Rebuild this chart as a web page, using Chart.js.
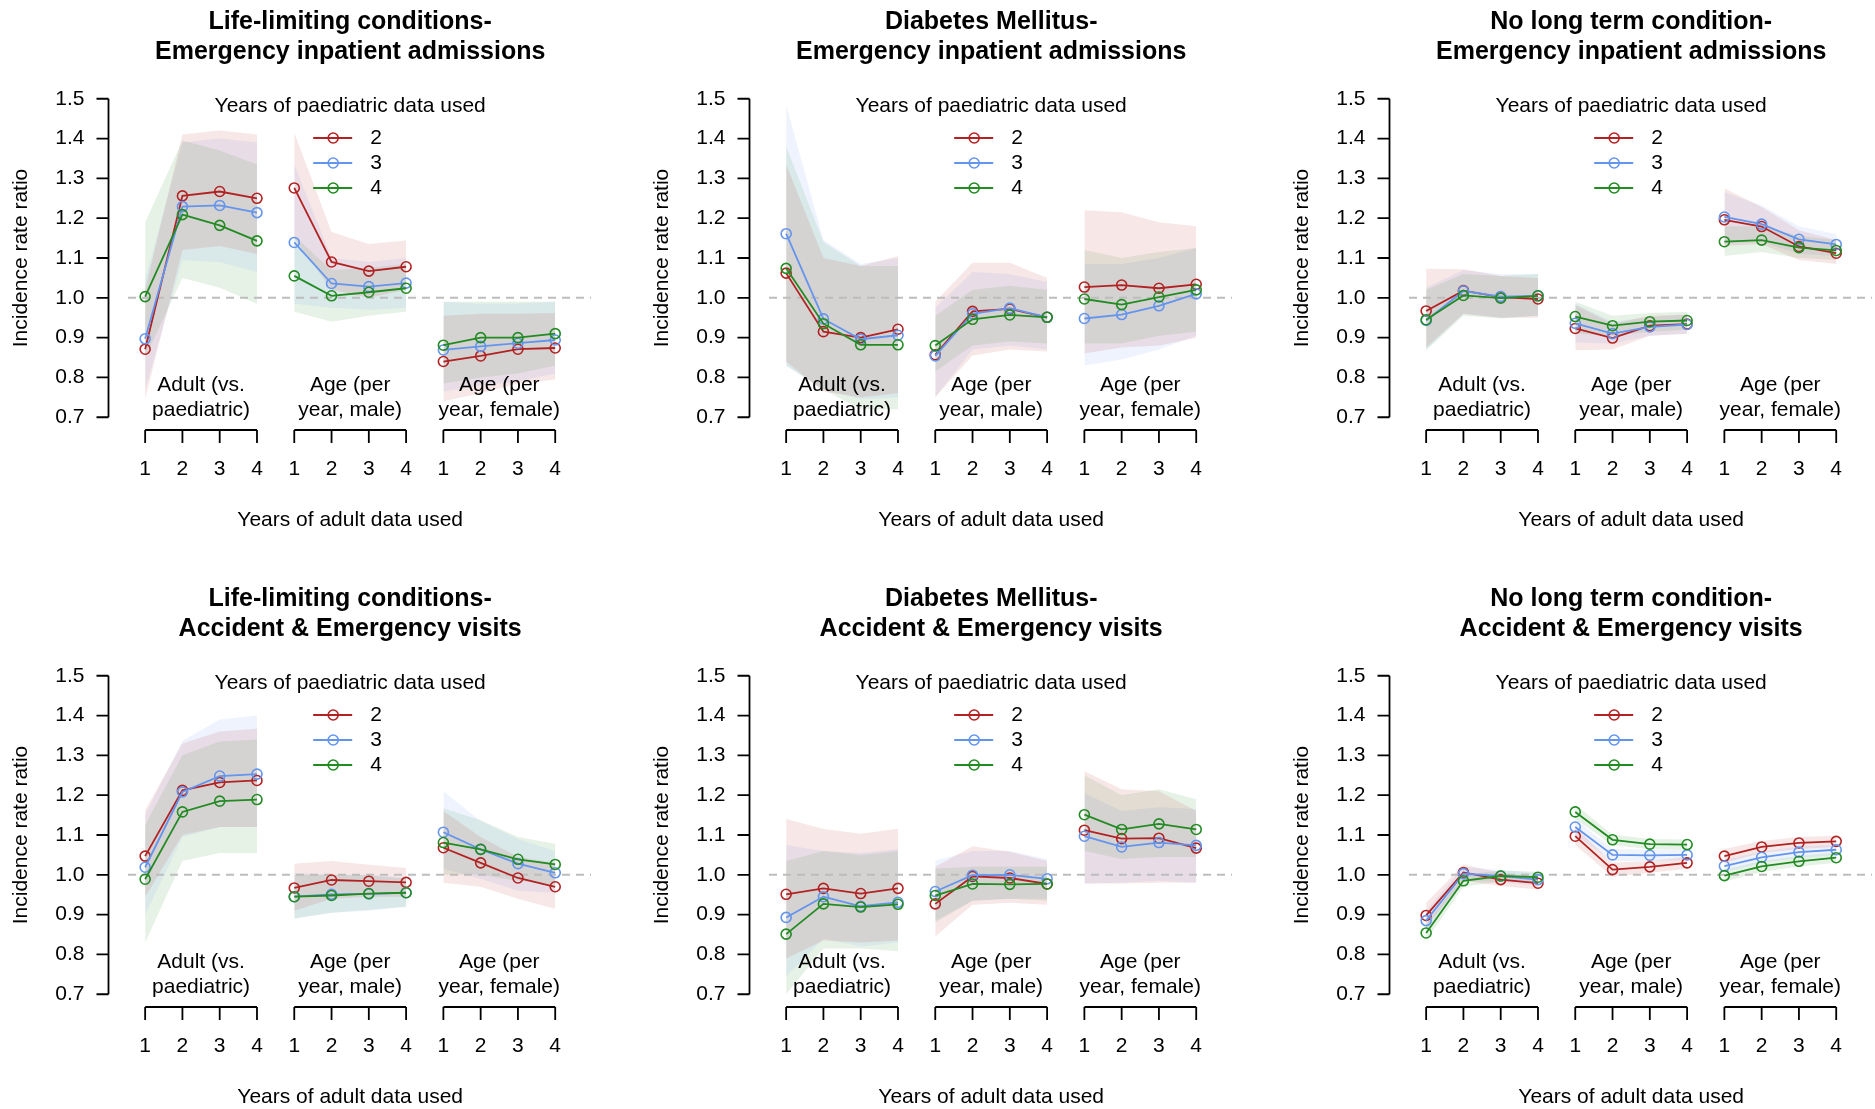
<!DOCTYPE html>
<html>
<head>
<meta charset="utf-8">
<title>Incidence rate ratios</title>
<script src="https://cdn.jsdelivr.net/npm/chart.js@4.4.0/dist/chart.umd.min.js"></script>
<style>
  html, body { margin: 0; padding: 0; background: #fff; }
  #wrap { position: relative; width: 1875px; height: 1109px; overflow: hidden; }
  #wrap canvas { position: absolute; }
</style>
</head>
<body>
<div id="wrap"></div>
<script>
// categories / labels
const adultYears = ['1', '2', '3', '4'];
const paedYears = ['2', '3', '4'];
const covariates = [['Adult (vs.', 'paediatric)'], ['Age (per', 'year, male)'], ['Age (per', 'year, female)']];
const yTicks = [0.7, 0.8, 0.9, 1.0, 1.1, 1.2, 1.3, 1.4, 1.5];
const yTickLabels = ['0.7', '0.8', '0.9', '1.0', '1.1', '1.2', '1.3', '1.4', '1.5'];

// each array: rows = paediatric years 2,3,4 ; 12 values = 3 covariates x adult years 1-4
// Life-limiting conditions - emergency inpatient admissions
const lifeEia = [
  [0.871, 1.256, 1.267, 1.250, 1.276, 1.090, 1.067, 1.078, 0.840, 0.854, 0.871, 0.874],
  [0.897, 1.229, 1.232, 1.214, 1.139, 1.036, 1.028, 1.037, 0.869, 0.878, 0.886, 0.894],
  [1.003, 1.209, 1.182, 1.143, 1.055, 1.005, 1.014, 1.024, 0.881, 0.900, 0.900, 0.910]];
const lifeEiaLo = [
  [0.745, 1.12, 1.13, 1.11, 1.15, 1.02, 1.00, 1.02, 0.74, 0.76, 0.785, 0.795],
  [0.77, 1.095, 1.09, 1.065, 0.985, 0.975, 0.97, 0.975, 0.765, 0.78, 0.79, 0.81],
  [0.85, 1.05, 1.025, 0.985, 0.965, 0.94, 0.955, 0.965, 0.785, 0.80, 0.81, 0.83]];
const lifeEiaHi = [
  [1.02, 1.41, 1.42, 1.41, 1.415, 1.165, 1.135, 1.144, 0.955, 0.96, 0.96, 0.962],
  [1.045, 1.39, 1.40, 1.39, 1.335, 1.10, 1.09, 1.10, 0.99, 0.985, 0.985, 0.99],
  [1.19, 1.395, 1.37, 1.335, 1.155, 1.07, 1.075, 1.085, 0.99, 0.99, 0.99, 0.99]];

// Diabetes Mellitus - emergency inpatient admissions
const diabEia = [
  [1.062, 0.915, 0.900, 0.921, 0.857, 0.966, 0.972, 0.951, 1.027, 1.032, 1.024, 1.034],
  [1.161, 0.947, 0.896, 0.906, 0.854, 0.960, 0.974, 0.951, 0.948, 0.958, 0.980, 1.010],
  [1.074, 0.935, 0.882, 0.882, 0.880, 0.946, 0.957, 0.951, 0.997, 0.983, 1.002, 1.020]];
const diabEiaLo = [
  [0.84, 0.765, 0.75, 0.76, 0.75, 0.855, 0.87, 0.865, 0.86, 0.875, 0.88, 0.90],
  [0.83, 0.77, 0.745, 0.75, 0.75, 0.87, 0.88, 0.87, 0.83, 0.845, 0.87, 0.905],
  [0.83, 0.77, 0.72, 0.72, 0.815, 0.88, 0.89, 0.885, 0.885, 0.885, 0.905, 0.915]];
const diabEiaHi = [
  [1.335, 1.10, 1.08, 1.105, 0.99, 1.088, 1.088, 1.05, 1.22, 1.215, 1.19, 1.18],
  [1.485, 1.145, 1.085, 1.10, 0.975, 1.065, 1.06, 1.04, 1.085, 1.085, 1.10, 1.125],
  [1.38, 1.14, 1.08, 1.08, 0.955, 1.02, 1.03, 1.02, 1.12, 1.10, 1.115, 1.125]];

// No long term condition - emergency inpatient admissions
const noneEia = [
  [0.967, 1.018, 1.002, 0.997, 0.923, 0.899, 0.930, 0.934, 1.196, 1.179, 1.129, 1.112],
  [0.943, 1.017, 1.003, 1.005, 0.936, 0.910, 0.927, 0.933, 1.203, 1.185, 1.147, 1.134],
  [0.945, 1.006, 0.999, 1.005, 0.953, 0.930, 0.940, 0.943, 1.141, 1.145, 1.126, 1.119]];
const noneEiaLo = [
  [0.875, 0.96, 0.95, 0.95, 0.868, 0.87, 0.905, 0.91, 1.13, 1.135, 1.095, 1.085],
  [0.87, 0.96, 0.95, 0.955, 0.888, 0.885, 0.905, 0.91, 1.135, 1.14, 1.11, 1.105],
  [0.868, 0.955, 0.948, 0.955, 0.91, 0.905, 0.915, 0.92, 1.105, 1.115, 1.10, 1.095]];
const noneEiaHi = [
  [1.073, 1.072, 1.055, 1.05, 0.982, 0.935, 0.955, 0.958, 1.275, 1.228, 1.17, 1.145],
  [1.025, 1.07, 1.06, 1.06, 0.985, 0.94, 0.952, 0.958, 1.265, 1.232, 1.18, 1.16],
  [1.02, 1.06, 1.055, 1.06, 0.99, 0.955, 0.962, 0.965, 1.18, 1.18, 1.155, 1.145]];

// Life-limiting conditions - A&E visits
const lifeAe = [
  [1.047, 1.212, 1.232, 1.237, 0.967, 0.987, 0.984, 0.981, 1.068, 1.030, 0.992, 0.970],
  [1.019, 1.208, 1.248, 1.253, 0.945, 0.951, 0.952, 0.955, 1.107, 1.064, 1.028, 1.005],
  [0.989, 1.158, 1.185, 1.189, 0.945, 0.948, 0.953, 0.955, 1.081, 1.064, 1.039, 1.026]];
const lifeAeLo = [
  [0.945, 1.10, 1.12, 1.12, 0.91, 0.94, 0.945, 0.945, 0.98, 0.97, 0.94, 0.915],
  [0.90, 1.095, 1.12, 1.12, 0.89, 0.905, 0.91, 0.92, 1.015, 0.99, 0.96, 0.955],
  [0.83, 1.035, 1.055, 1.055, 0.89, 0.905, 0.912, 0.92, 1.0, 1.0, 0.985, 0.975]];
const lifeAeHi = [
  [1.162, 1.33, 1.36, 1.367, 1.028, 1.035, 1.025, 1.017, 1.16, 1.095, 1.045, 1.03],
  [1.15, 1.337, 1.39, 1.40, 1.005, 1.0, 1.0, 0.993, 1.21, 1.135, 1.09, 1.06],
  [1.125, 1.30, 1.335, 1.34, 1.0, 1.0, 0.998, 0.99, 1.167, 1.137, 1.095, 1.078]];

// Diabetes Mellitus - A&E visits
const diabAe = [
  [0.951, 0.966, 0.953, 0.966, 0.927, 0.996, 0.992, 0.977, 1.112, 1.091, 1.092, 1.067],
  [0.893, 0.945, 0.921, 0.931, 0.958, 0.999, 1.000, 0.990, 1.097, 1.070, 1.081, 1.074],
  [0.851, 0.927, 0.919, 0.926, 0.948, 0.977, 0.976, 0.977, 1.151, 1.114, 1.128, 1.114]];
const diabAeLo = [
  [0.79, 0.835, 0.83, 0.835, 0.845, 0.925, 0.93, 0.925, 0.978, 0.978, 0.98, 0.98],
  [0.745, 0.84, 0.82, 0.83, 0.885, 0.935, 0.94, 0.94, 0.978, 0.98, 0.985, 0.98],
  [0.70, 0.815, 0.815, 0.808, 0.88, 0.935, 0.94, 0.935, 1.06, 1.04, 1.045, 1.045]];
const diabAeHi = [
  [1.14, 1.115, 1.103, 1.116, 1.02, 1.072, 1.058, 1.035, 1.26, 1.215, 1.21, 1.16],
  [1.075, 1.06, 1.055, 1.065, 1.036, 1.06, 1.06, 1.04, 1.205, 1.16, 1.17, 1.165],
  [1.035, 1.06, 1.05, 1.06, 1.015, 1.02, 1.02, 1.02, 1.25, 1.20, 1.215, 1.19]];

// No long term condition - A&E visits
const noneAe = [
  [0.898, 1.006, 0.988, 0.979, 1.097, 1.013, 1.020, 1.030, 1.047, 1.070, 1.080, 1.084],
  [0.885, 1.003, 0.997, 0.988, 1.120, 1.050, 1.049, 1.050, 1.022, 1.044, 1.057, 1.063],
  [0.854, 0.985, 0.997, 0.994, 1.158, 1.088, 1.077, 1.076, 0.998, 1.021, 1.034, 1.043]];
const noneAeLo = [
  [0.87, 0.985, 0.972, 0.963, 1.075, 0.995, 1.005, 1.015, 1.03, 1.055, 1.065, 1.07],
  [0.86, 0.985, 0.982, 0.973, 1.10, 1.035, 1.035, 1.037, 1.007, 1.03, 1.043, 1.05],
  [0.835, 0.97, 0.983, 0.98, 1.14, 1.075, 1.064, 1.063, 0.983, 1.007, 1.021, 1.03]];
const noneAeHi = [
  [0.93, 1.025, 1.005, 0.995, 1.118, 1.03, 1.035, 1.045, 1.065, 1.085, 1.095, 1.098],
  [0.91, 1.02, 1.012, 1.003, 1.14, 1.065, 1.063, 1.063, 1.037, 1.058, 1.071, 1.076],
  [0.875, 1.0, 1.011, 1.008, 1.176, 1.101, 1.09, 1.089, 1.013, 1.035, 1.047, 1.056]];

const panels = [
  { title: ['Life-limiting conditions-', 'Emergency inpatient admissions'], mean: lifeEia, lo: lifeEiaLo, hi: lifeEiaHi, left: 0, top: 0 },
  { title: ['Diabetes Mellitus-', 'Emergency inpatient admissions'], mean: diabEia, lo: diabEiaLo, hi: diabEiaHi, left: 641, top: 0 },
  { title: ['No long term condition-', 'Emergency inpatient admissions'], mean: noneEia, lo: noneEiaLo, hi: noneEiaHi, left: 1281, top: 0 },
  { title: ['Life-limiting conditions-', 'Accident & Emergency visits'], mean: lifeAe, lo: lifeAeLo, hi: lifeAeHi, left: 0, top: 577 },
  { title: ['Diabetes Mellitus-', 'Accident & Emergency visits'], mean: diabAe, lo: diabAeLo, hi: diabAeHi, left: 641, top: 577 },
  { title: ['No long term condition-', 'Accident & Emergency visits'], mean: noneAe, lo: noneAeLo, hi: noneAeHi, left: 1281, top: 577 }
];

const lineColors = ['#B22222', '#6495ED', '#228B22'];
const bandColors = ['rgba(178,34,34,0.11)', 'rgba(100,149,237,0.11)', 'rgba(34,139,34,0.11)'];
const FONT = '"Liberation Sans", Arial, Helvetica, sans-serif';

// points of one covariate group, x = 1..12
function groupPts(vals, g) {
  return adultYears.map((t, k) => ({ x: g * 4 + k + 1, y: vals[g * 4 + k] }));
}
// whole series with a gap between covariate groups
function seriesPts(vals) {
  const out = [];
  covariates.forEach((c, g) => {
    out.push(...groupPts(vals, g));
    if (g < covariates.length - 1) out.push({ x: g * 4 + 4.5, y: null });
  });
  return out;
}

const decor = {
  id: 'decor',
  beforeDatasetsDraw(chart) {
    const { ctx, chartArea: a, scales: { y } } = chart;
    const py = y.getPixelForValue(1);
    ctx.save();
    ctx.strokeStyle = '#bdbdbd';
    ctx.lineWidth = 2;
    ctx.setLineDash([8, 6]);
    ctx.beginPath();
    ctx.moveTo(a.left, py);
    ctx.lineTo(a.right, py);
    ctx.stroke();
    ctx.restore();
  },
  afterDraw(chart, args, opts) {
    const { ctx, chartArea: a, scales: { x, y } } = chart;
    const mid = x.getPixelForValue(6.5);
    ctx.save();
    ctx.fillStyle = '#000';
    ctx.strokeStyle = '#000';
    ctx.textBaseline = 'middle';
    ctx.textAlign = 'center';

    // title
    ctx.font = 'bold 25px ' + FONT;
    ctx.fillText(opts.title[0], mid, 22);
    ctx.fillText(opts.title[1], mid, 52);

    // y axis
    const ax = a.left - 19.5;
    ctx.lineWidth = 1.8;
    ctx.beginPath();
    ctx.moveTo(ax, y.getPixelForValue(yTicks[0]));
    ctx.lineTo(ax, y.getPixelForValue(yTicks[yTicks.length - 1]));
    yTicks.forEach(v => {
      const p = y.getPixelForValue(v);
      ctx.moveTo(ax - 12, p);
      ctx.lineTo(ax, p);
    });
    ctx.stroke();
    ctx.font = '21px ' + FONT;
    ctx.textAlign = 'right';
    yTicks.forEach((v, i) => ctx.fillText(yTickLabels[i], ax - 24, y.getPixelForValue(v)));

    ctx.save();
    ctx.translate(21, (a.top + a.bottom) / 2);
    ctx.rotate(-Math.PI / 2);
    ctx.textAlign = 'center';
    ctx.fillText('Incidence rate ratio', 0, 0);
    ctx.restore();

    // covariate brackets along the bottom
    ctx.textAlign = 'center';
    covariates.forEach((lab, g) => {
      const xs = adultYears.map((t, k) => x.getPixelForValue(g * 4 + k + 1));
      ctx.beginPath();
      ctx.moveTo(xs[0], a.bottom);
      ctx.lineTo(xs[3], a.bottom);
      xs.forEach(px => {
        ctx.moveTo(px, a.bottom);
        ctx.lineTo(px, a.bottom + 13);
      });
      ctx.stroke();
      xs.forEach((px, k) => ctx.fillText(adultYears[k], px, a.bottom + 39));
      const c = (xs[0] + xs[3]) / 2;
      ctx.fillText(lab[0], c, a.bottom - 45);
      ctx.fillText(lab[1], c, a.bottom - 20);
    });
    ctx.fillText('Years of adult data used', mid, a.bottom + 90);

    // legend
    ctx.fillText('Years of paediatric data used', mid, 106);
    paedYears.forEach((lab, s) => {
      const ly = 138 + s * 25;
      ctx.strokeStyle = lineColors[s];
      ctx.lineWidth = 1.8;
      ctx.beginPath();
      ctx.moveTo(mid - 37, ly);
      ctx.lineTo(mid + 2, ly);
      ctx.stroke();
      ctx.lineWidth = 1.6;
      ctx.beginPath();
      ctx.arc(mid - 17, ly, 5, 0, Math.PI * 2);
      ctx.stroke();
      ctx.textAlign = 'left';
      ctx.fillText(lab, mid + 20, ly);
    });
    ctx.restore();
  }
};

const wrap = document.getElementById('wrap');

panels.forEach(p => {
  const cv = document.createElement('canvas');
  cv.width = 640;
  cv.height = 577;
  cv.style.left = p.left + 'px';
  cv.style.top = p.top + 'px';
  wrap.appendChild(cv);

  const datasets = [];
  // confidence bands: lower line then upper line filled down to it
  paedYears.forEach((lab, s) => {
    covariates.forEach((c, g) => {
      datasets.push({ data: groupPts(p.lo[s], g), borderWidth: 0, borderColor: 'rgba(0,0,0,0)',
        pointRadius: 0, fill: false, order: 10 });
      datasets.push({ data: groupPts(p.hi[s], g), borderWidth: 0, borderColor: 'rgba(0,0,0,0)',
        pointRadius: 0, fill: '-1', backgroundColor: bandColors[s], order: 10 });
    });
  });
  // estimate lines
  paedYears.forEach((lab, s) => {
    datasets.push({
      label: lab,
      data: seriesPts(p.mean[s]),
      borderColor: lineColors[s],
      borderWidth: 1.8,
      pointRadius: 5,
      pointBorderWidth: 1.6,
      pointBorderColor: lineColors[s],
      pointBackgroundColor: 'rgba(255,255,255,0)',
      tension: 0,
      spanGaps: false,
      fill: false,
      order: 2 - s
    });
  });

  new Chart(cv, {
    type: 'line',
    data: { datasets },
    options: {
      responsive: false,
      animation: false,
      events: [],
      layout: { padding: { left: 128, right: 49, top: 86, bottom: 147 } },
      scales: {
        x: { type: 'linear', min: 0.54, max: 12.96, display: false },
        y: { type: 'linear', min: 0.668, max: 1.532, display: false }
      },
      plugins: {
        legend: { display: false },
        tooltip: { enabled: false },
        filler: { drawTime: 'beforeDatasetsDraw' },
        decor: { title: p.title }
      }
    },
    plugins: [decor]
  });
});
</script>
</body>
</html>
